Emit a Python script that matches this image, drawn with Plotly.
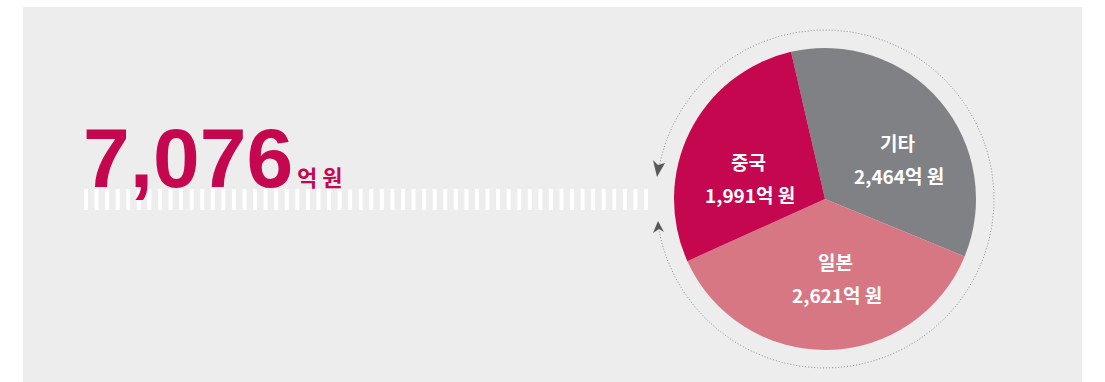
import numpy as np
import plotly.graph_objects as go

# ---- data ----
regions = ["기타", "일본", "중국"]
values = [2464, 2621, 1991]          # 억 원
total_value = 7076
unit = "억 원"
colors = ["#808185", "#D87784", "#C4074F"]

W, H = 1105, 382
CX, CY, R = 825, 199, 151
RING = 169

fig = go.Figure()

# decorative white tick strip
tick_x = np.linspace(86, 646, 54)
xs, ys = [], []
for x in tick_x:
    xs += [x, x, None]
    ys += [189, 210, None]
fig.add_trace(go.Scatter(x=xs, y=ys, mode="lines",
                         line=dict(color="white", width=4),
                         hoverinfo="skip", showlegend=False))

# dotted ring with gap on the left
a = np.radians(np.linspace(190, 530, 400))
fig.add_trace(go.Scatter(x=CX + RING * np.cos(a), y=CY - RING * np.sin(a),
                         mode="lines",
                         line=dict(color="#8c8c8c", width=1, dash="1px,2px"),
                         hoverinfo="skip", showlegend=False))

# pie
fig.add_trace(go.Pie(labels=regions, values=values, sort=False,
                     direction="clockwise", rotation=-13,
                     marker=dict(colors=colors, line=dict(width=0)),
                     textinfo="none", hoverinfo="label+value",
                     showlegend=False,
                     domain=dict(x=[(CX - R) / W, (CX + R) / W],
                                 y=[(H - CY - R) / H, (H - CY + R) / H])))

shapes = [
    dict(type="rect", xref="x", yref="y", x0=23, x1=1082, y0=7, y1=382,
         fillcolor="#EDEDED", line=dict(width=0), layer="below"),
    # arrowheads
    dict(type="path", xref="x", yref="y",
         path="M 653 160 L 658 165 L 665 163 L 657 177 Z",
         fillcolor="#58595B", line=dict(width=0)),
    dict(type="path", xref="x", yref="y",
         path="M 653 233 L 659 229 L 664 232 L 658 221 Z",
         fillcolor="#58595B", line=dict(width=0)),
]

annotations = []
# big total
annotations.append(dict(x=81, y=207, xref="x", yref="y", xanchor="left", yanchor="bottom",
                        text=f"{total_value:,}", showarrow=False,
                        font=dict(family="Liberation Sans, Arial, sans-serif",
                                  size=84, color="#C4074F", weight="bold")))
annotations.append(dict(x=295, y=176, xref="x", yref="y", xanchor="left", yanchor="middle",
                        text=unit, showarrow=False,
                        font=dict(family="Noto Sans CJK KR", size=22,
                                  color="#C4074F", weight="bold")))

# slice labels
label_pos = {"기타": (897, 158), "일본": (835, 277), "중국": (748, 177)}
for name, v in zip(regions, values):
    lx, ly = label_pos[name]
    annotations.append(dict(x=lx, y=ly - 16, xref="x", yref="y", text=name,
                            showarrow=False,
                            font=dict(family="Noto Sans CJK KR", size=19,
                                      color="white", weight="bold")))
    annotations.append(dict(x=lx + 2, y=ly + 17, xref="x", yref="y",
                            text=f"{v:,}{unit}", showarrow=False,
                            font=dict(family="Noto Sans CJK KR", size=19,
                                      color="white", weight="bold")))

fig.update_layout(
    width=W, height=H, margin=dict(l=0, r=0, t=0, b=0),
    paper_bgcolor="white", plot_bgcolor="white",
    xaxis=dict(range=[0, W], visible=False, fixedrange=True),
    yaxis=dict(range=[H, 0], visible=False, fixedrange=True),
    shapes=shapes, annotations=annotations,
)

fig.write_html("out.html")
